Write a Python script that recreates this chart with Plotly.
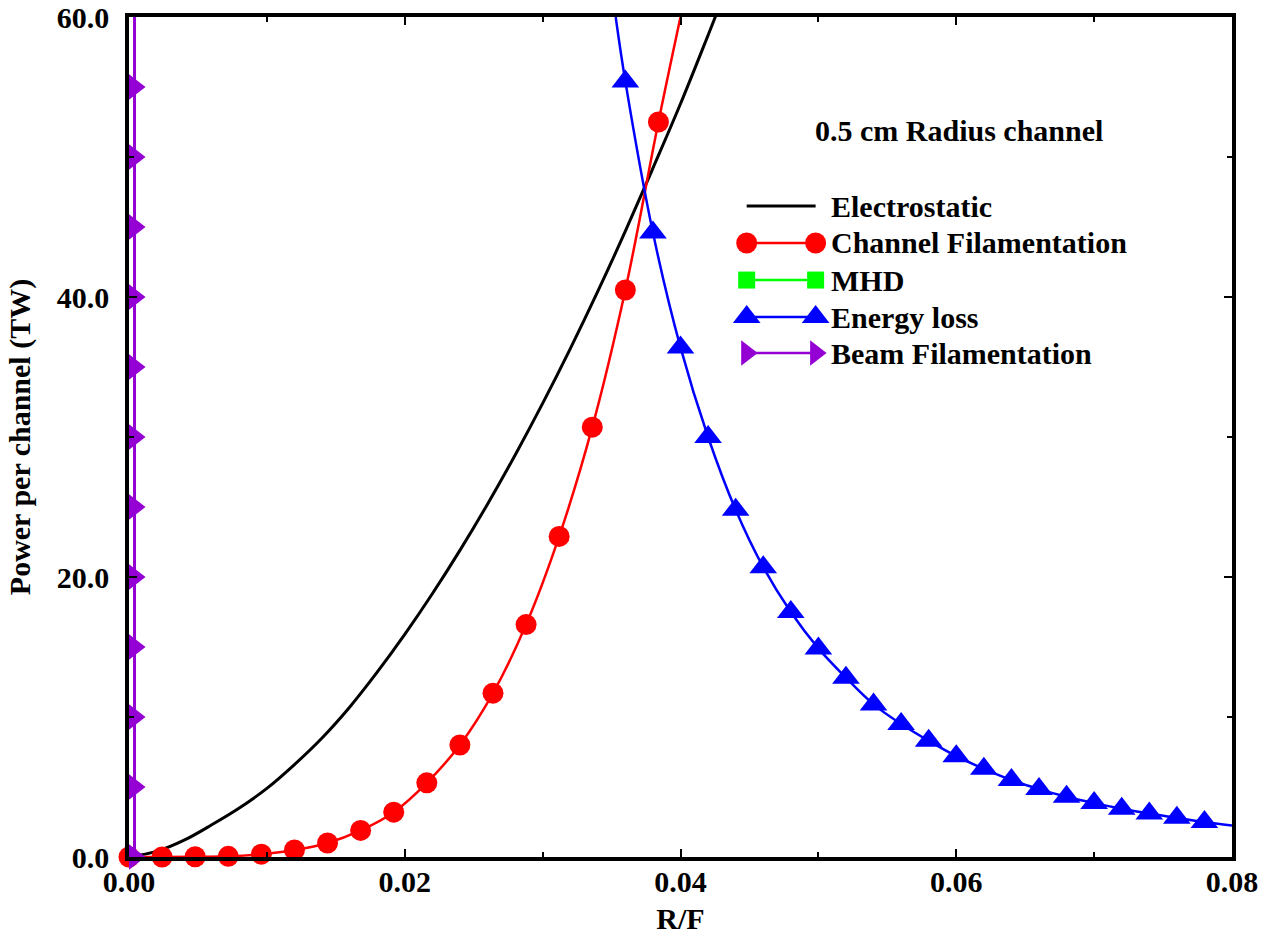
import plotly.graph_objects as go

# ---------------- data ----------------
electro_x = [0.0, 0.002, 0.004, 0.006, 0.008, 0.010, 0.012, 0.014, 0.016, 0.018, 0.020,
             0.022, 0.024, 0.026, 0.028, 0.030, 0.032, 0.034, 0.036, 0.038, 0.040, 0.042, 0.0426]
electro_y = [0.0, 0.4, 1.2, 2.3, 3.5, 4.9, 6.6, 8.5, 10.7, 13.2, 15.9,
             18.8, 21.9, 25.2, 28.7, 32.4, 36.3, 40.4, 44.7, 49.2, 53.8, 58.7, 60.2]

chan_x = [0.0, 0.0024, 0.0048, 0.0072, 0.0096, 0.0120, 0.0144, 0.0168, 0.0192,
          0.0216, 0.0240, 0.0264, 0.0288, 0.0312, 0.0336, 0.0360, 0.0384]
chan_y = [0.0, 0.0, 0.02, 0.05, 0.2, 0.5, 1.0, 1.9, 3.2,
          5.3, 8.0, 11.7, 16.6, 22.9, 30.7, 40.5, 52.5]
chan_end_x = [0.0400]
chan_end_y = [60.0]

mhd_x = []
mhd_y = []

eloss_x = [0.036, 0.038, 0.040, 0.042, 0.044, 0.046, 0.048, 0.050, 0.052, 0.054, 0.056,
           0.058, 0.060, 0.062, 0.064, 0.066, 0.068, 0.070, 0.072, 0.074, 0.076, 0.078]
eloss_y = [55.4, 44.6, 36.4, 30.0, 24.8, 20.7, 17.5, 14.9, 12.8, 10.9, 9.5,
           8.3, 7.2, 6.3, 5.5, 4.85, 4.3, 3.85, 3.45, 3.1, 2.8, 2.5]
eloss_start_x = [0.0353]
eloss_start_y = [60.0]
eloss_end_x = [0.080]
eloss_end_y = [2.25]

beam_x = [0.0004] * 12
beam_y = [0, 5, 10, 15, 20, 25, 30, 35, 40, 45, 50, 55]
beam_end_x = [0.0004]
beam_end_y = [60.0]

series_names = ["Electrostatic", "Channel Filamentation", "MHD", "Energy loss", "Beam Filamentation"]
series_colors = ["#000000", "#ff0000", "#00ff00", "#0000ff", "#9400d3"]
series_symbols = [None, "circle", "square", "triangle-up", "triangle-right"]
series_msizes = [0, 21, 17, 24, 22]

FONT = "Liberation Serif, Times New Roman, serif"
FS = 30

fig = go.Figure()

# Electrostatic
fig.add_trace(go.Scatter(x=electro_x, y=electro_y, mode="lines",
                         line=dict(color=series_colors[0], width=3, shape="spline"),
                         showlegend=False, hoverinfo="skip"))
# Channel filamentation
fig.add_trace(go.Scatter(x=chan_x + chan_end_x, y=chan_y + chan_end_y, mode="lines",
                         line=dict(color=series_colors[1], width=2.5, shape="spline"),
                         showlegend=False, hoverinfo="skip"))
fig.add_trace(go.Scatter(x=chan_x, y=chan_y, mode="markers", cliponaxis=False,
                         marker=dict(color=series_colors[1], symbol="circle", size=series_msizes[1]),
                         showlegend=False))
# MHD (no visible points in range)
fig.add_trace(go.Scatter(x=mhd_x, y=mhd_y, mode="lines+markers",
                         line=dict(color=series_colors[2], width=2.5),
                         marker=dict(color=series_colors[2], symbol="square", size=series_msizes[2]),
                         showlegend=False))
# Energy loss
fig.add_trace(go.Scatter(x=eloss_start_x + eloss_x + eloss_end_x,
                         y=eloss_start_y + eloss_y + eloss_end_y, mode="lines",
                         line=dict(color=series_colors[3], width=2.5, shape="spline"),
                         showlegend=False, hoverinfo="skip"))
fig.add_trace(go.Scatter(x=eloss_x, y=eloss_y, mode="markers", cliponaxis=False,
                         marker=dict(color=series_colors[3], symbol="triangle-up", size=series_msizes[3]),
                         showlegend=False))
# Beam filamentation
fig.add_trace(go.Scatter(x=beam_x + beam_end_x, y=beam_y + beam_end_y, mode="lines",
                         line=dict(color=series_colors[4], width=3),
                         showlegend=False, hoverinfo="skip"))
fig.add_trace(go.Scatter(x=beam_x, y=beam_y, mode="markers", cliponaxis=False,
                         marker=dict(color=series_colors[4], symbol="triangle-right", size=series_msizes[4]),
                         showlegend=False))

# ---------------- custom legend (layout positions in axis units) ----------------
leg_x0, leg_x1, leg_tx = 0.0448, 0.0498, 0.0508
leg_rows = [46.5, 43.86, 41.21, 38.57, 36.0]
for name, col, sym, ms, ry in zip(series_names, series_colors, series_symbols, series_msizes, leg_rows):
    if sym is None:
        fig.add_trace(go.Scatter(x=[leg_x0, leg_x1], y=[ry, ry], mode="lines",
                                 line=dict(color=col, width=3), showlegend=False, hoverinfo="skip"))
    else:
        fig.add_trace(go.Scatter(x=[leg_x0, leg_x1], y=[ry, ry], mode="lines+markers",
                                 line=dict(color=col, width=2.5),
                                 marker=dict(color=col, symbol=sym, size=ms),
                                 showlegend=False, hoverinfo="skip"))
    fig.add_annotation(x=leg_tx, y=ry, xref="x", yref="y", text=name, showarrow=False,
                       xanchor="left", yanchor="middle",
                       font=dict(family=FONT, size=FS, color="black", weight="bold"))

fig.add_annotation(x=0.0496, y=51.86, xref="x", yref="y", text="0.5 cm Radius channel",
                   showarrow=False, xanchor="left", yanchor="middle",
                   font=dict(family=FONT, size=FS, color="black", weight="bold"))

axis_common = dict(showline=True, linecolor="black", linewidth=3.5, mirror="allticks",
                   ticks="inside", tickcolor="black", tickwidth=1.5, ticklen=8,
                   showgrid=False, zeroline=False,
                   tickfont=dict(family=FONT, size=FS, color="black", weight="bold"))

fig.update_xaxes(range=[0, 0.08], dtick=0.02, tick0=0, tickformat=".2f",
                 minor=dict(dtick=0.01, ticks="inside", ticklen=5, tickcolor="black", tickwidth=1.5),
                 title=dict(text="R/F", standoff=12,
                            font=dict(family=FONT, size=FS, color="black", weight="bold")),
                 ticklabelstandoff=-5, **axis_common)
fig.update_yaxes(range=[0, 60], dtick=20, tick0=0, tickformat=".1f",
                 minor=dict(dtick=10, ticks="inside", ticklen=5, tickcolor="black", tickwidth=1.5),
                 title=dict(text="Power per channel (TW)", standoff=18,
                            font=dict(family=FONT, size=FS, color="black", weight="bold")),
                 ticklabelstandoff=10, **axis_common)

fig.update_layout(width=1274, height=939,
                  margin=dict(l=129, r=42, t=17, b=82, autoexpand=False),
                  paper_bgcolor="white", plot_bgcolor="white",
                  font=dict(family=FONT, size=FS, color="black", weight="bold"),
                  showlegend=False)

fig.write_html("out.html")
